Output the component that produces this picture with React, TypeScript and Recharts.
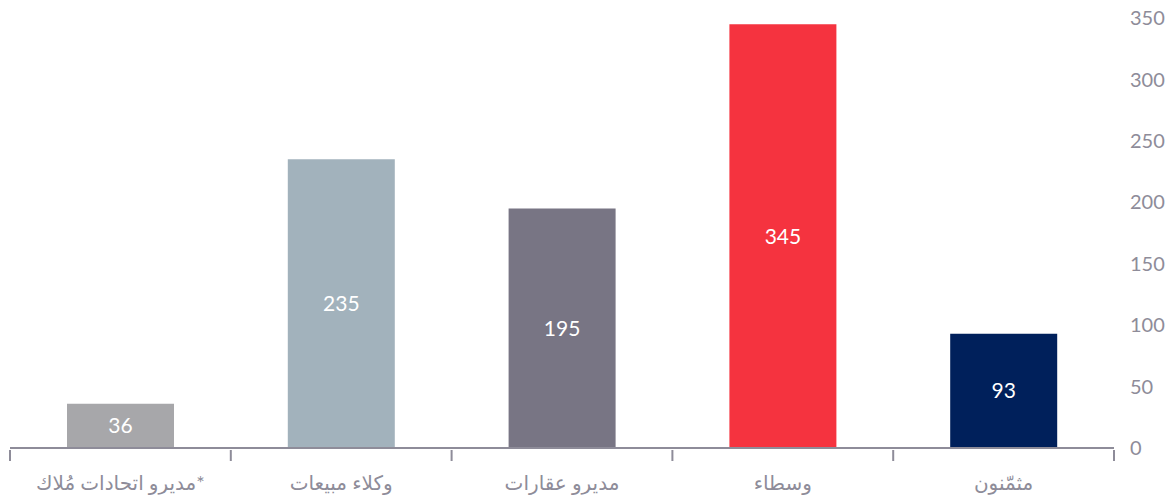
import React from "react";
import { BarChart, Bar, XAxis, YAxis, Cell, LabelList } from "recharts";

const categories = ["مديرو اتحادات مُلاك*", "وكلاء مبيعات", "مديرو عقارات", "وسطاء", "مثمّنون"];
const values = [36, 235, 195, 345, 93];
const colors = ["#a7a7aa", "#a2b2bc", "#787584", "#f5333f", "#00205b"];
const yTicks = [0, 50, 100, 150, 200, 250, 300, 350];

const data = categories.map((c, i) => ({ name: c, value: values[i] }));

const AXIS_COLOR = "#8e8c99";
const FONT = "Lato, 'DejaVu Sans', sans-serif";

const XTick = (props: any) => {
  const { x, y, payload, index } = props;
  const half = 1104 / categories.length / 2;
  return (
    <g>
      <line x1={x + half} y1={y - 8} x2={x + half} y2={y + 3} stroke={AXIS_COLOR} strokeWidth={2} />
      {index === 0 && (
        <line x1={x - half} y1={y - 8} x2={x - half} y2={y + 3} stroke={AXIS_COLOR} strokeWidth={2} />
      )}
      <text x={x} y={y + 32} textAnchor="middle" fill={AXIS_COLOR} fontSize={20} fontFamily={FONT}>
        {payload.value}
      </text>
    </g>
  );
};

export default function App() {
  return (
    <div style={{ position: "absolute", left: 0, top: 0, background: "#fff" }}>
      <BarChart
        width={1176}
        height={497}
        data={data}
        margin={{ top: 18, right: 0, bottom: 0, left: 10 }}
        barCategoryGap={0}
      >
        <XAxis
          dataKey="name"
          height={49}
          interval={0}
          axisLine={{ stroke: AXIS_COLOR, strokeWidth: 2 }}
          tickLine={false}
          tick={<XTick />}
          tickSize={8}
        />
        <YAxis
          orientation="right"
          width={62}
          domain={[0, 350]}
          ticks={yTicks}
          axisLine={false}
          tickLine={false}
          tickSize={0}
          tickMargin={16}
          tick={{ fill: AXIS_COLOR, fontSize: 20, fontFamily: FONT, textAnchor: "start" }}
        />
        <Bar dataKey="value" barSize={107} isAnimationActive={false}>
          {data.map((d, i) => (
            <Cell key={d.name} fill={colors[i]} />
          ))}
          <LabelList dataKey="value" position="center" fill="#ffffff" fontSize={21} fontFamily={FONT} />
        </Bar>
      </BarChart>
    </div>
  );
}
